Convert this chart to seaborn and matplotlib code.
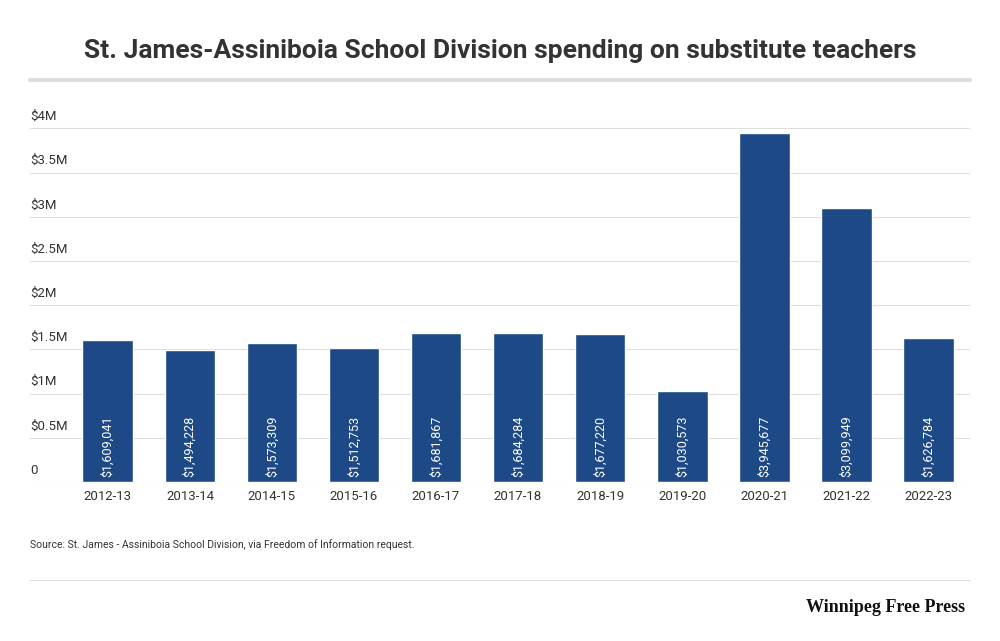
import matplotlib.pyplot as plt
import seaborn as sns
import pandas as pd
from matplotlib.transforms import blended_transform_factory

years = ['2012-13', '2013-14', '2014-15', '2015-16', '2016-17', '2017-18',
         '2018-19', '2019-20', '2020-21', '2021-22', '2022-23']
spending = [1609041, 1494228, 1573309, 1512753, 1681867, 1684284,
            1677220, 1030573, 3945677, 3099949, 1626784]
tick_vals = [0, 500000, 1000000, 1500000, 2000000, 2500000, 3000000, 3500000, 4000000]
tick_labels = ['0', '$0.5M', '$1M', '$1.5M', '$2M', '$2.5M', '$3M', '$3.5M', '$4M']

df = pd.DataFrame({'year': years, 'spending': spending})

sns.set_theme(style='white')
plt.rcParams['font.family'] = ['Roboto', 'DejaVu Sans']

fig = plt.figure(figsize=(10, 6.41), dpi=100)
ax = fig.add_axes([0.03, 0.248, 0.94, 0.607])

sns.barplot(data=df, x='year', y='spending', color='#1d4a86', saturation=1,
            width=0.62, ax=ax, zorder=3)

ax.set_xlim(-0.95, 10.51)
ax.set_ylim(0, 4400000)
ax.set_xlabel('')
ax.set_ylabel('')
ax.set_yticks([])
for s in ax.spines.values():
    s.set_visible(False)
ax.tick_params(axis='x', length=0, labelsize=9.5, colors='#333333', pad=6)

trans = blended_transform_factory(ax.transAxes, ax.transData)
for v, lab in zip(tick_vals, tick_labels):
    ax.axhline(v, color='#dddddd', lw=0.8, zorder=1)
    ax.text(0.0, v + 60000, lab, transform=trans, ha='left', va='bottom',
            fontsize=9.5, color='#333333')

for i, v in enumerate(spending):
    ax.text(i, 60000, f'${v:,}', rotation=90, ha='center', va='bottom',
            color='white', fontsize=9, zorder=4)

fig.text(0.5, 0.92, 'St. James-Assiniboia School Division spending on substitute teachers',
         ha='center', va='center', fontsize=19, fontweight='bold', color='#333333')
fig.add_artist(plt.Line2D([0.03, 0.97], [1 - 80 / 641] * 2, color='#dddddd', lw=3))
fig.text(0.03, 1 - 545 / 641, 'Source: St. James - Assiniboia School Division, via Freedom of Information request.',
         ha='left', va='center', fontsize=7.5, color='#333333')
fig.add_artist(plt.Line2D([0.03, 0.97], [1 - 580 / 641] * 2, color='#dddddd', lw=0.8))
fig.text(0.965, 1 - 607 / 641, 'Winnipeg Free Press', ha='right', va='center',
         fontsize=13, fontweight='bold', color='#111111', family=['Liberation Serif', 'DejaVu Serif'])

fig.savefig('out.png', dpi=100)
